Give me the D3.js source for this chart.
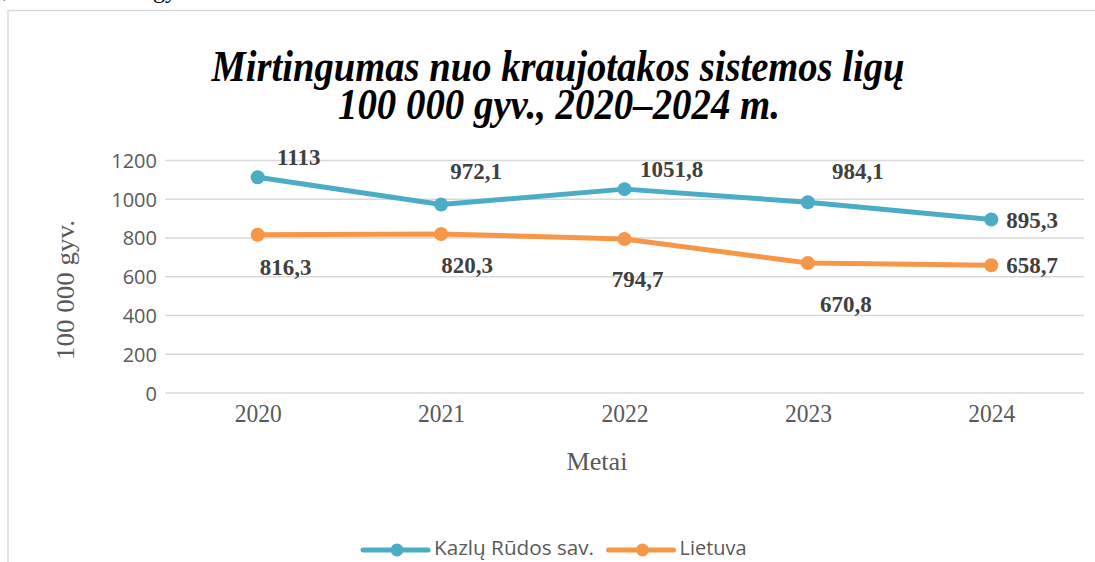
<!DOCTYPE html>
<html>
<head>
<meta charset="utf-8">
<script src="https://cdn.jsdelivr.net/npm/d3@7"></script>
<style>
  html, body { margin: 0; padding: 0; background: #fff; }
  svg { display: block; }
</style>
</head>
<body>
<div id="chart"></div>
<script>
// chart data
const years = ['2020', '2021', '2022', '2023', '2024'];
const kazluRudos = [1113, 972.1, 1051.8, 984.1, 895.3];
const lietuva = [816.3, 820.3, 794.7, 670.8, 658.7];
const yTicks = [0, 200, 400, 600, 800, 1000, 1200];
const seriesNames = ['Kazlų Rūdos sav.', 'Lietuva'];

// label nudges (Excel labels were moved by hand)
const kazluOffsets = [[41, -12], [35, -26], [47, -12], [50, -23], [15, 9, 'start']];
const lietuvaOffsets = [[28, 40], [26, 39], [13, 48], [38, 49], [15, 8, 'start']];

const width = 1095, height = 562;
const blue = '#4bacc6', orange = '#f79646';
const serif = '"Liberation Serif", "Times New Roman", serif';
const sans = '"Open Sans", "Noto Sans", sans-serif';

const svg = d3.select('#chart').append('svg')
  .attr('width', width)
  .attr('height', height);

// bits of the document text above the chart
svg.append('text').attr('x', 3).attr('y', -4)
  .style('font-family', serif).style('font-size', '24px').text(')');
svg.append('text').attr('x', 153).attr('y', -2)
  .style('font-family', serif).style('font-size', '24px').text('gy');

// chart frame
svg.append('rect')
  .attr('x', 8).attr('y', 10.5)
  .attr('width', 1100).attr('height', 600)
  .attr('fill', 'none')
  .attr('stroke', '#d9d9d9')
  .attr('stroke-width', 1.5);

// title
const title = svg.append('g')
  .style('font-family', serif)
  .style('font-weight', 'bold')
  .style('font-style', 'italic')
  .style('font-size', '44px')
  .attr('fill', '#000');
title.append('text').attr('x', 558).attr('y', 81)
  .attr('text-anchor', 'middle')
  .attr('textLength', 693).attr('lengthAdjust', 'spacingAndGlyphs')
  .text('Mirtingumas nuo kraujotakos sistemos ligų');
title.append('text').attr('x', 559).attr('y', 119)
  .attr('text-anchor', 'middle')
  .attr('textLength', 442).attr('lengthAdjust', 'spacingAndGlyphs')
  .text('100 000 gyv., 2020–2024 m.');

// scales
const x = d3.scalePoint().domain(years).range([166, 1083]).padding(0.5);
const y = d3.scaleLinear().domain([0, 1200]).range([393, 160.4]);

// gridlines
svg.append('g')
  .selectAll('line')
  .data(yTicks)
  .join('line')
  .attr('x1', 165).attr('x2', 1084)
  .attr('y1', d => y(d)).attr('y2', d => y(d))
  .attr('stroke', '#d9d9d9')
  .attr('stroke-width', 1.5);

// y axis labels
const yAxis = d3.axisLeft(y).tickValues(yTicks).tickFormat(d3.format('d'))
  .tickSize(0).tickPadding(0);
svg.append('g')
  .attr('transform', 'translate(157,0)')
  .call(yAxis)
  .call(g => g.select('.domain').remove())
  .call(g => g.selectAll('text')
    .attr('dy', '0.35em')
    .style('font-family', sans)
    .style('font-size', '20px')
    .attr('fill', '#595959'));

// x axis labels
const xAxis = d3.axisBottom(x).tickSize(0).tickPadding(0);
svg.append('g')
  .attr('transform', 'translate(0,393)')
  .call(xAxis)
  .call(g => g.select('.domain').remove())
  .call(g => g.selectAll('text')
    .attr('y', 29).attr('dy', 0)
    .attr('textLength', 47).attr('lengthAdjust', 'spacingAndGlyphs')
    .style('font-family', serif)
    .style('font-size', '25px')
    .attr('fill', '#595959'));

// axis titles
svg.append('text')
  .attr('x', 597).attr('y', 470)
  .attr('text-anchor', 'middle')
  .attr('textLength', 61).attr('lengthAdjust', 'spacingAndGlyphs')
  .style('font-family', serif).style('font-size', '26px')
  .attr('fill', '#595959')
  .text('Metai');
svg.append('text')
  .attr('transform', 'translate(74,290) rotate(-90)')
  .attr('text-anchor', 'middle')
  .attr('textLength', 140).attr('lengthAdjust', 'spacingAndGlyphs')
  .style('font-family', serif).style('font-size', '26px')
  .attr('fill', '#595959')
  .text('100 000 gyv.');

// series
const series = [
  { name: seriesNames[0], values: kazluRudos, color: blue, offsets: kazluOffsets },
  { name: seriesNames[1], values: lietuva, color: orange, offsets: lietuvaOffsets }
];

const line = d3.line()
  .x((d, i) => x(years[i]))
  .y(d => y(d));

const fmt = v => String(v).replace('.', ',');

series.forEach(s => {
  const g = svg.append('g');
  g.append('path')
    .datum(s.values)
    .attr('d', line)
    .attr('fill', 'none')
    .attr('stroke', s.color)
    .attr('stroke-width', 5)
    .attr('stroke-linejoin', 'round')
    .attr('stroke-linecap', 'round');
  g.selectAll('circle')
    .data(s.values)
    .join('circle')
    .attr('cx', (d, i) => x(years[i]))
    .attr('cy', d => y(d))
    .attr('r', 7)
    .attr('fill', s.color);
  g.selectAll('text')
    .data(s.values)
    .join('text')
    .attr('x', (d, i) => x(years[i]) + s.offsets[i][0])
    .attr('y', (d, i) => y(d) + s.offsets[i][1])
    .attr('text-anchor', (d, i) => s.offsets[i][2] || 'middle')
    .style('font-family', serif)
    .style('font-weight', 'bold')
    .style('font-size', '23px')
    .attr('fill', '#404040')
    .text(fmt);
});

// legend
const legendItems = [
  { name: seriesNames[0], color: blue, x: 363, len: 160 },
  { name: seriesNames[1], color: orange, x: 608.5, len: 67 }
];
const legend = svg.append('g').attr('transform', 'translate(0,550)');
legendItems.forEach(item => {
  legend.append('line')
    .attr('x1', item.x).attr('x2', item.x + 65)
    .attr('y1', 0).attr('y2', 0)
    .attr('stroke', item.color)
    .attr('stroke-width', 5)
    .attr('stroke-linecap', 'round');
  legend.append('circle')
    .attr('cx', item.x + 34).attr('cy', 0)
    .attr('r', 6.5)
    .attr('fill', item.color);
  legend.append('text')
    .attr('x', item.x + 71).attr('y', 5)
    .attr('textLength', item.len).attr('lengthAdjust', 'spacingAndGlyphs')
    .style('font-family', sans)
    .style('font-size', '20px')
    .attr('fill', '#595959')
    .text(item.name);
});
</script>
</body>
</html>
